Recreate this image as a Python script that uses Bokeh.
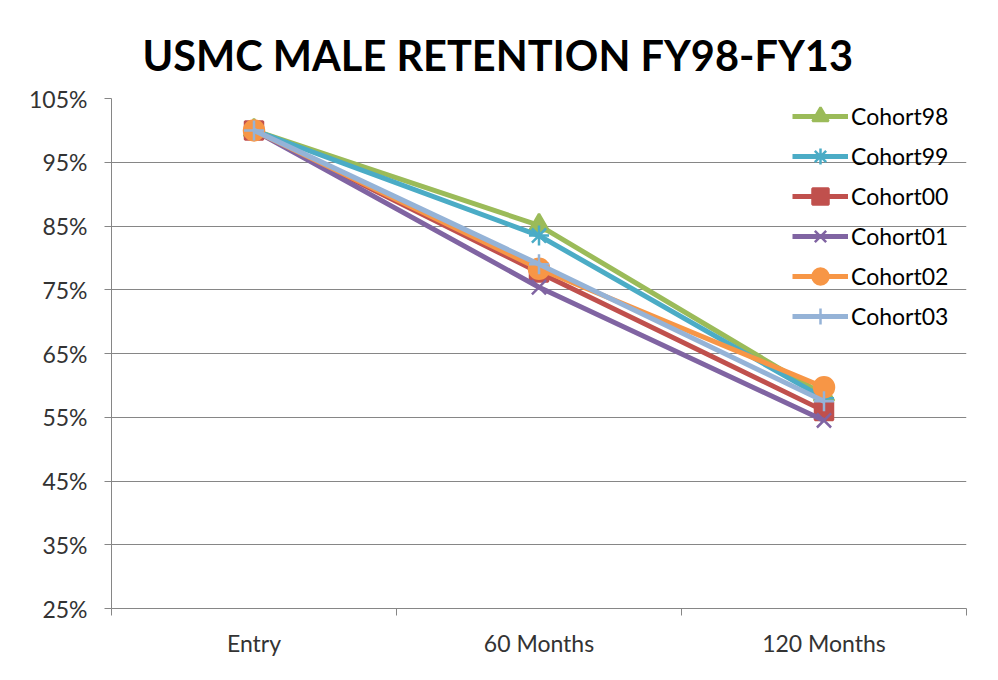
from bokeh.plotting import figure
from bokeh.models import FixedTicker, NumeralTickFormatter, Range1d, Legend, LegendItem
from bokeh.embed import file_html
from bokeh.resources import INLINE

categories = ["Entry", "60 Months", "120 Months"]
cohort98 = [1.00, 0.851, 0.585]
cohort99 = [1.00, 0.835, 0.580]
cohort00 = [1.00, 0.777, 0.560]
cohort01 = [1.00, 0.754, 0.545]
cohort02 = [1.00, 0.783, 0.597]
cohort03 = [1.00, 0.790, 0.575]
y_ticks = [0.25, 0.35, 0.45, 0.55, 0.65, 0.75, 0.85, 0.95, 1.05]

series = [
    ("Cohort98", cohort98, "#9BBB59", "triangle", 20),
    ("Cohort99", cohort99, "#4BACC6", "asterisk", 20),
    ("Cohort00", cohort00, "#C0504D", "square", 18),
    ("Cohort01", cohort01, "#8064A2", "x", 20),
    ("Cohort02", cohort02, "#F79646", "circle", 20),
    ("Cohort03", cohort03, "#95B3D7", "cross", 20),
]

FONT = "Lato"
xs = [i + 0.5 for i in range(len(categories))]

p = figure(width=982, height=664, output_backend="svg", toolbar_location=None,
           x_range=Range1d(0, len(categories)), y_range=Range1d(0.25, 1.05),
           min_border_left=111, min_border_right=16, min_border_top=98, min_border_bottom=56,
           title="USMC MALE RETENTION FY98-FY13")
p.title.align = "left"
p.title.offset = 31
p.title.standoff = 38
p.title.text_font = FONT
p.title.text_font_size = "41.5px"
p.title.text_font_style = "bold"
p.title.text_color = "#000000"
p.outline_line_color = None
p.background_fill_color = "white"
p.border_fill_color = "white"

p.xgrid.grid_line_color = None
p.ygrid.grid_line_color = "#868686"
p.ygrid.grid_line_width = 1
p.ygrid.ticker = FixedTicker(ticks=y_ticks)

p.xaxis.ticker = FixedTicker(ticks=xs, minor_ticks=list(range(len(categories) + 1)))
p.xaxis.major_label_overrides = {x: c for x, c in zip(xs, categories)}
p.xaxis.major_tick_out = 0
p.xaxis.major_tick_in = 0
p.xaxis.minor_tick_out = 7
p.xaxis.minor_tick_in = 0
p.xaxis.minor_tick_line_color = "#868686"

p.yaxis.ticker = FixedTicker(ticks=y_ticks)
p.yaxis.formatter = NumeralTickFormatter(format="0%")
p.yaxis.major_tick_out = 7
p.yaxis.major_tick_in = 0
p.yaxis.minor_tick_line_color = None

for ax in (p.xaxis, p.yaxis):
    ax.axis_line_color = "#868686"
    ax.major_tick_line_color = "#868686"
    ax.major_label_text_font = FONT
    ax.major_label_text_font_size = "23px"
    ax.major_label_text_color = "#333333"
p.yaxis.major_label_standoff = 17
p.xaxis.major_label_standoff = 13

items = []
for name, vals, color, marker, size in series:
    r1 = p.line(xs, vals, line_color=color, line_width=5)
    r2 = p.scatter(xs, vals, marker=marker, size=size, fill_color=color,
                   line_color=color, line_width=2.5)
    items.append(LegendItem(label=name, renderers=[r1, r2]))

legend = Legend(items=items, location=(681, 272))
legend.border_line_color = None
legend.background_fill_alpha = 0
legend.label_text_font = FONT
legend.label_text_font_size = "23px"
legend.label_text_color = "#000000"
legend.glyph_width = 56
legend.glyph_height = 40
legend.label_height = 40
legend.spacing = 0
legend.padding = 0
legend.margin = 0
legend.label_standoff = 3
p.add_layout(legend)

open("out.html", "w").write(file_html(p, INLINE))
